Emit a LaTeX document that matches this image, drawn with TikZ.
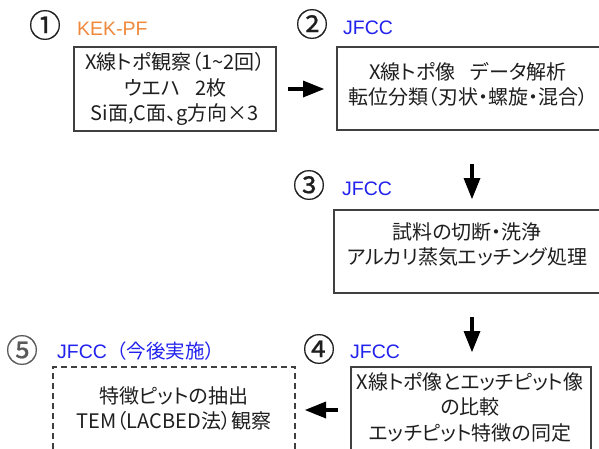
\documentclass[tikz,border=0pt]{standalone}
\usepackage{fontspec}
\setmainfont{Noto Sans CJK JP}[RawFeature=+palt]
\newfontfamily\jpfull{Noto Sans CJK JP}
\newfontfamily\numfont{Noto Sans CJK JP}[FakeBold=0.6]
\newfontfamily\labfont{Liberation Sans}
\usetikzlibrary{arrows.meta}
\definecolor{boxgray}{HTML}{404040}
\definecolor{kekorange}{HTML}{F0883C}
\definecolor{jfccblue}{HTML}{2222EE}
\definecolor{numgray}{HTML}{5A5A5A}
\tikzset{
  box/.style={draw=boxgray, line width=1.3pt, inner sep=0pt, outer sep=0pt, rectangle},
  dbox/.style={box, dash pattern=on 6pt off 4pt},
  txt/.style={align=center, font=\fontsize{20}{25.5}\selectfont, inner sep=0pt, text=black!88},
  lab/.style={anchor=base west, inner sep=0pt, font=\labfont\fontsize{19.5}{19.5}\selectfont},
  num/.style={inner sep=0pt, font=\numfont\fontsize{32}{32}\selectfont, text=black!88},
  arr/.style={line width=3.5pt, -{Triangle[length=21pt,width=17pt,line width=0pt]}}
}
\begin{document}
\begin{tikzpicture}[x=1pt,y=-1pt]
\useasboundingbox (0,0) rectangle (599,448);
\clip (0,0) rectangle (599,448);
\fill[white] (0,0) rectangle (599,448);
% boxes
\node[box, minimum width=202pt, minimum height=84pt] (b1) at (175,89) {};
\node[box, minimum width=275pt, minimum height=83pt] (b2) at (474.5,88.5) {};
\node[box, minimum width=278pt, minimum height=83pt] (b3) at (473,251.5) {};
\node[box, minimum width=240pt, minimum height=100pt] (b4) at (471,417) {};
\node[dbox, minimum width=242pt, minimum height=100pt] (b5) at (174,417) {};
% texts
\node[txt] (t1) at (175,89) {X線トポ観察（1\textasciitilde 2回）\\ウエハ\hspace{15pt}2枚\\Si面,C面、g方向×3};
\node[txt] (t2) at (468,84.5) {X線トポ像\hspace{15pt}データ解析\\転位分類（刃状・螺旋・混合）};
\node[txt] (t3) at (467,244.5) {試料の切断・洗浄\\アルカリ蒸気エッチング処理};
\node[txt] (t4) at (470,407) {X線トポ像とエッチピット像\\の比較\\エッチピット特徴の同定};
\node[txt] (t5) at (174,408.5) {特徴ピットの抽出\\TEM（LACBED法）観察};
% step numbers
\node[num] (n1) at (45,25) {①};
\node[num] (n2) at (312,24) {②};
\node[num] (n3) at (309,185) {③};
\node[num] (n4) at (319,349) {④};
\node[num, text=numgray] (n5) at (22,350) {⑤};
% labels
\node[lab, text=kekorange] (l1) at (77,35) {KEK-PF};
\node[lab, text=jfccblue] (l2) at (343,34) {JFCC};
\node[lab, text=jfccblue] (l3) at (342,195) {JFCC};
\node[lab, text=jfccblue] (l4) at (350,358) {JFCC};
\node[lab, text=jfccblue] (l5) at (57,358) {JFCC{\jpfull（今後実施）}};
% arrows
\draw[arr, shorten <=12pt, shorten >=13pt] (b1.east) -- (b2.west |- b1.east);
\draw[arr, shorten <=34pt, shorten >=11pt] ([xshift=-2.5pt]b2.south) -- ([xshift=-2.5pt]b2.south |- b3.north);
\draw[arr, shorten <=24pt, shorten >=15pt] ([xshift=-1pt]b3.south) -- ([xshift=-1pt]b3.south |- b4.north);
\draw[arr, shorten <=13pt, shorten >=10pt] ([yshift=-43pt]b4.north west) -- ([yshift=-43pt]b5.north east);
\end{tikzpicture}
\end{document}
